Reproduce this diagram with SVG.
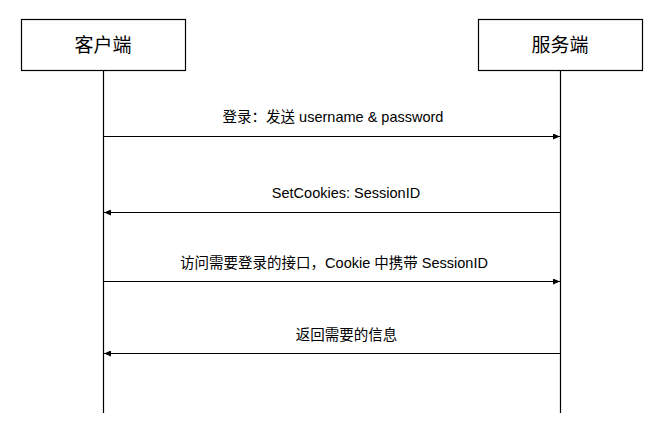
<svg xmlns="http://www.w3.org/2000/svg" width="658" height="445" viewBox="0 0 658 445">
<style>
.box{fill:#fff;stroke:#000;stroke-width:1.2}
.life{stroke:#000;stroke-width:1.2;fill:none}
.msg{stroke:#000;stroke-width:1.2;fill:none;marker-end:url(#ah)}
.title{font-family:"Liberation Sans","Noto Sans CJK SC",sans-serif;font-size:19px;fill:#000;text-anchor:middle}
.lbl{font-family:"Liberation Sans","Noto Sans CJK SC",sans-serif;font-size:14.5px;fill:#000;text-anchor:middle}
</style>
<defs>
<marker id="ah" viewBox="0 0 7 6" refX="7" refY="3" markerWidth="7" markerHeight="6" markerUnits="userSpaceOnUse" orient="auto">
<path d="M0,0 L7,3 L0,6 Z" fill="#000"/>
</marker>
</defs>
<rect width="658" height="445" fill="#fff"/>
<g id="client">
<rect class="box" x="21.5" y="19.5" width="164" height="51"/>
<text class="title" x="103" y="52">客户端</text>
</g>
<g id="server">
<rect class="box" x="478.5" y="19.5" width="164" height="51"/>
<text class="title" x="560" y="52">服务端</text>
</g>
<g id="connectors">
<line class="life" x1="103.5" y1="70.5" x2="103.5" y2="413"/>
<line class="life" x1="560.5" y1="70.5" x2="560.5" y2="413"/>
<line class="msg" x1="103.5" y1="136.5" x2="560" y2="136.5"/>
<line class="msg" x1="560.5" y1="212.5" x2="104" y2="212.5"/>
<line class="msg" x1="103.5" y1="281.5" x2="560" y2="281.5"/>
<line class="msg" x1="560.5" y1="353.5" x2="104" y2="353.5"/>
</g>
<g id="labels">
<text class="lbl" x="333" y="122">登录：发送 username &amp; password</text>
<text class="lbl" x="346" y="198">SetCookies: SessionID</text>
<text class="lbl" x="334" y="268">访问需要登录的接口，Cookie 中携带 SessionID</text>
<text class="lbl" x="346.5" y="340">返回需要的信息</text>
</g>
</svg>
